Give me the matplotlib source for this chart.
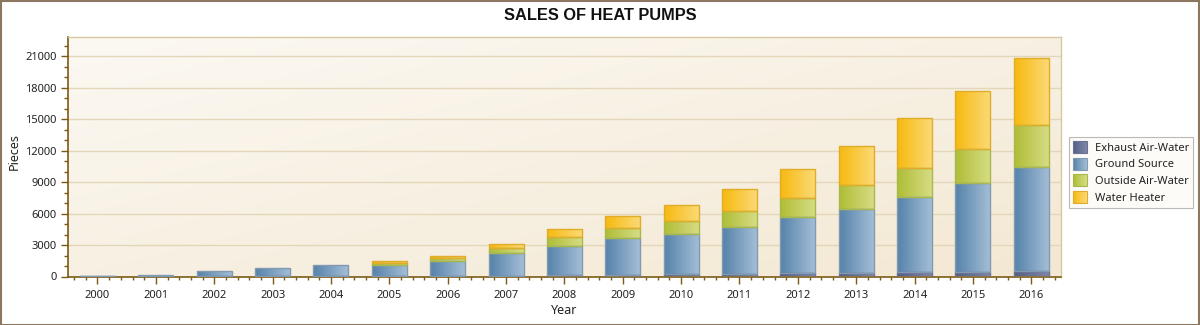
import numpy as np
import matplotlib
matplotlib.use("Agg")
import matplotlib.pyplot as plt
from matplotlib.colors import LinearSegmentedColormap, to_rgb
from matplotlib.patches import Rectangle
from matplotlib.legend_handler import HandlerBase
from matplotlib.ticker import MultipleLocator

# ---- data -------------------------------------------------------------
years = ["2000", "2001", "2002", "2003", "2004", "2005", "2006", "2007", "2008",
         "2009", "2010", "2011", "2012", "2013", "2014", "2015", "2016"]
exhaust_air_water = [20, 30, 30, 40, 40, 50, 60, 80, 130, 130, 260, 260, 355, 355, 450, 450, 545]
ground_source = [50, 160, 450, 730, 1010, 1070, 1410, 2160, 2780, 3550, 3800, 4470,
                 5275, 6105, 7160, 8440, 9875]
outside_air_water = [0, 0, 0, 0, 0, 190, 330, 510, 900, 990, 1190, 1470, 1820, 2240,
                     2720, 3260, 4030]
water_heater = [0, 0, 0, 0, 0, 130, 200, 380, 670, 1050, 1530, 2140, 2780, 3740,
                4790, 5560, 6330]

series_names = ["Exhaust Air-Water", "Ground Source", "Outside Air-Water", "Water Heater"]
series_values = [exhaust_air_water, ground_source, outside_air_water, water_heater]

# left colour, right colour, edge colour of each series
series_styles = [
    ("#545E85", "#7F87A9", "#6A7090"),
    ("#5582AA", "#A5BFD7", "#8199B1"),
    ("#AFBD35", "#D7DD86", "#A9B84A"),
    ("#F6B90E", "#FBDA78", "#E0AC2A"),
]

# ---- figure -----------------------------------------------------------
W, H = 1200, 325
fig = plt.figure(figsize=(W / 100, H / 100), dpi=100, facecolor="white")
ax = fig.add_axes([68.3 / W, 1 - 276.5 / H, (1060.5 - 68.3) / W, (276.5 - 37.3) / H])

text_font = "Noto Sans"
axis_dark = "#7C5A12"
frame_light = "#D9C7A0"

# plot-area background: soft diagonal cream gradient
bg = np.add.outer(np.linspace(0, 1, 64), np.linspace(0, 1, 64)) / 2
bg_cmap = LinearSegmentedColormap.from_list("bg", ["#FCF9F3", "#F3E8D3"])
ax.imshow(bg, cmap=bg_cmap, extent=(0, 1, 0, 1), transform=ax.transAxes,
          aspect="auto", origin="upper", zorder=-2, interpolation="bicubic")


def gradient_bar(patch, c0, c1):
    x, y = patch.get_x(), patch.get_y()
    w, h = patch.get_width(), patch.get_height()
    if h <= 0:
        patch.set_visible(False)
        return
    cmap = LinearSegmentedColormap.from_list("g", [c0, c1])
    grad = np.linspace(0, 1, 128).reshape(1, -1)
    im = ax.imshow(grad, cmap=cmap, extent=(x, x + w, y, y + h), aspect="auto",
                   origin="lower", zorder=2, interpolation="bilinear")
    im.set_clip_path(patch)


xpos = np.arange(len(years))
bottom = np.zeros(len(years))
for vals, (c0, c1, ec) in zip(series_values, series_styles):
    vals = np.asarray(vals, dtype=float)
    bars = ax.bar(xpos, vals, width=0.6, bottom=bottom, facecolor="none",
                  edgecolor=ec, linewidth=1.0, zorder=3)
    for p in bars:
        gradient_bar(p, c0, c1)
    bottom += vals

ax.set_xlim(-0.5, len(years) - 0.5)
ax.set_ylim(0, 22800)

# grid and ticks
ax.yaxis.set_major_locator(MultipleLocator(3000))
ax.yaxis.set_minor_locator(MultipleLocator(1000))
ax.set_xticks(xpos)
ax.set_xticklabels(years)
ax.xaxis.set_minor_locator(MultipleLocator(0.2))
ax.grid(axis="y", which="major", color="#E4D7B9", linewidth=1.0, zorder=-1)
ax.set_axisbelow(True)

ax.tick_params(axis="both", which="both", colors=axis_dark, labelcolor="#222222",
               labelsize=8, direction="out")
ax.tick_params(axis="y", which="major", length=5, width=1)
ax.tick_params(axis="y", which="minor", length=3, width=1)
ax.tick_params(axis="x", which="major", length=5, width=1, pad=5)
ax.tick_params(axis="x", which="minor", length=2.5, width=1)
for lab in ax.get_xticklabels() + ax.get_yticklabels():
    lab.set_fontfamily(text_font)

for side in ("left", "bottom"):
    ax.spines[side].set_color(axis_dark)
    ax.spines[side].set_linewidth(1.2)
for side in ("top", "right"):
    ax.spines[side].set_color(frame_light)
    ax.spines[side].set_linewidth(1.0)

# titles
fig.text(0.5, 1 - 16 / H, "SALES OF HEAT PUMPS", ha="center", va="center",
         fontsize=11.8, fontweight="bold", family="Liberation Sans", color="#111111")
fig.text(14 / W, 1 - 152 / H, "Pieces", rotation=90, ha="center", va="center",
         fontsize=9, family=text_font, color="#222222")
fig.text(564 / W, 1 - 311 / H, "Year", ha="center", va="center",
         fontsize=9, family=text_font, color="#222222")


# legend with gradient swatches
class GradientSwatch(HandlerBase):
    def __init__(self, c0, c1, ec):
        super().__init__()
        self.c0, self.c1, self.ec = np.array(to_rgb(c0)), np.array(to_rgb(c1)), ec

    def create_artists(self, legend, orig_handle, xdescent, ydescent, width, height,
                       fontsize, trans):
        n = 16
        arts = []
        for i in range(n):
            t = i / (n - 1)
            col = self.c0 * (1 - t) + self.c1 * t
            arts.append(Rectangle((-xdescent + width * i / n, -ydescent), width / n + 0.05,
                                  height, facecolor=col, edgecolor="none", transform=trans))
        arts.append(Rectangle((-xdescent, -ydescent), width, height, facecolor="none",
                              edgecolor=self.ec, linewidth=0.8, transform=trans))
        return arts


handles = [Rectangle((0, 0), 1, 1) for _ in series_names]
hmap = {h: GradientSwatch(*st) for h, st in zip(handles, series_styles)}
leg = fig.legend(handles, series_names, handler_map=hmap, loc="upper left",
                 bbox_to_anchor=(1069 / W, 1 - 137 / H), bbox_transform=fig.transFigure,
                 borderaxespad=0, prop={"family": text_font, "size": 8},
                 handlelength=1.3, handleheight=1.3, labelspacing=0.35, handletextpad=0.7,
                 borderpad=0.35, fancybox=False, frameon=True)
leg.get_frame().set_edgecolor("#A8A8A8")
leg.get_frame().set_facecolor("#FCFAF6")
leg.get_frame().set_linewidth(0.8)
for t in leg.get_texts():
    t.set_color("#222222")

# outer border of the figure
fig.patches.append(Rectangle((0.5 / W, 0.5 / H), 1 - 1.5 / W, 1 - 1.5 / H,
                             transform=fig.transFigure, facecolor="none",
                             edgecolor="#8C7760", linewidth=1.5))

fig.savefig("out.png", dpi=100, facecolor="white")
